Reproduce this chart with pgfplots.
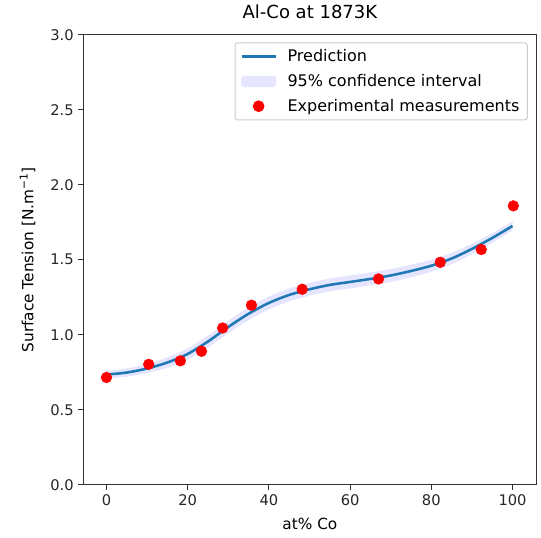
\documentclass[border=0pt]{standalone}
\usepackage{fontspec}
\setmainfont{DejaVu Sans}
\usepackage{pgfplots}
\usepackage{pgfplotstable}
\pgfplotsset{compat=1.18}
\usepgfplotslibrary{fillbetween}

\definecolor{mplblue}{HTML}{1F77B4}
\definecolor{band}{RGB}{229,229,255}
\definecolor{spine}{gray}{0.2}

% prediction with 95% band
\pgfplotstableread{
x    y      lo     hi
0    0.735  0.710  0.760
5    0.748  0.720  0.776
10   0.775  0.745  0.805
15   0.815  0.780  0.850
20   0.872  0.834  0.910
25   0.955  0.915  0.995
30   1.052  1.010  1.094
35   1.140  1.097  1.183
40   1.212  1.169  1.255
45   1.265  1.222  1.308
50   1.303  1.260  1.346
55   1.332  1.289  1.375
60   1.352  1.309  1.395
65   1.372  1.329  1.415
70   1.395  1.352  1.438
75   1.425  1.383  1.467
80   1.460  1.420  1.500
85   1.508  1.470  1.546
90   1.572  1.537  1.607
95   1.645  1.613  1.677
100  1.725  1.695  1.755
}\pred

% experimental points
\pgfplotstableread{
x      y
0      0.715
10.4   0.803
18.2   0.826
23.4   0.890
28.6   1.045
35.7   1.197
48.2   1.303
67.0   1.372
82.2   1.483
92.3   1.568
100.2  1.859
}\meas

\begin{document}
\begin{tikzpicture}
\begin{axis}[
    scale only axis,
    width=339.75pt,
    height=337.5pt,
    xmin=-5.7, xmax=105.9,
    ymin=0, ymax=3,
    xtick={0,20,40,60,80,100},
    ytick={0,0.5,1,1.5,2,2.5,3},
    yticklabel style={/pgf/number format/.cd, fixed, fixed zerofill, precision=1},
    /pgf/number format/assume math mode=true,
    tick align=outside,
    major tick length=3.75pt,
    tick style={spine, line width=0.8pt},
    axis line style={spine, line width=0.8pt},
    xtick pos=bottom, ytick pos=left,
    ticklabel style={font=\fontsize{11}{13}\selectfont, text=black!85},
    title={Al-Co at 1873K},
    title style={font=\fontsize{13.5}{16}\selectfont, at={(axis description cs:0.5,1)}, anchor=center, yshift=10.9pt},
    xlabel={at\% Co},
    ylabel={Surface Tension [N.m\textsuperscript{−1}]},
    label style={font=\fontsize{11.5}{13}\selectfont},
    xlabel style={at={(axis description cs:0.5,-0.0877)}, anchor=center},
    ylabel style={at={(axis description cs:-0.123,0.5)}, anchor=center},
    legend cell align=left,
    legend style={
        at={(axis description cs:0.981,0.983)}, anchor=north east,
        draw=black!20, line width=0.75pt, rounded corners=2pt,
        font=\fontsize{12}{14}\selectfont,
        row sep=4pt, column sep=6pt, inner xsep=4pt, inner ysep=3pt
    },
]
\addplot[name path=hi, draw=none, smooth, forget plot] table[x=x, y=hi] {\pred};
\addplot[name path=lo, draw=none, smooth, forget plot] table[x=x, y=lo] {\pred};
\addplot[band, forget plot] fill between[of=hi and lo];

\addplot[mplblue, line width=1.9pt, smooth, forget plot] table[x=x, y=y] {\pred};
\addplot[only marks, mark=*, mark size=4pt, color=red, forget plot] table[x=x, y=y] {\meas};

\addlegendimage{legend image code/.code={\draw[mplblue, line width=1.9pt] (0pt,0pt) -- (25.5pt,0pt);}}
\addlegendentry{Prediction}
\addlegendimage{legend image code/.code={\fill[band] (0pt,-3.85pt) rectangle (25.5pt,3.85pt);}}
\addlegendentry{95\% confidence interval}
\addlegendimage{legend image code/.code={\fill[red] (12.75pt,0pt) circle (4pt);}}
\addlegendentry{Experimental measurements}
\end{axis}
\path[use as bounding box] ([xshift=-62.5pt,yshift=-39.4pt]current axis.south west) rectangle ([xshift=3.4pt,yshift=26pt]current axis.north east);
\end{tikzpicture}
\end{document}
